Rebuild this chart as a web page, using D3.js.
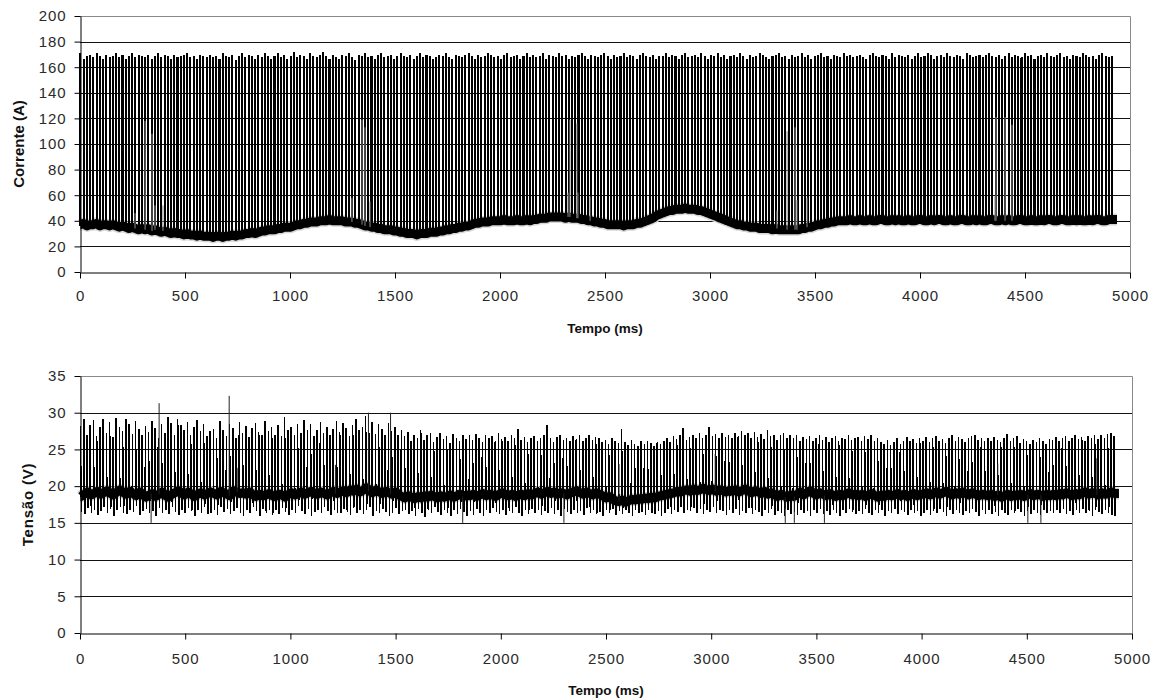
<!DOCTYPE html>
<html>
<head>
<meta charset="utf-8">
<script src="https://cdn.jsdelivr.net/npm/d3@7"></script>
<style>
  html, body { margin: 0; padding: 0; background: #fff; }
  svg { display: block; font-family: "Liberation Sans", Arial, sans-serif; }
</style>
</head>
<body>
<svg id="chart" width="1158" height="700"></svg>
<script>
// ---------------- DATA ----------------
const timeTicks = [0, 500, 1000, 1500, 2000, 2500, 3000, 3500, 4000, 4500, 5000];
const currentTicks = [0, 20, 40, 60, 80, 100, 120, 140, 160, 180, 200];
const voltageTicks = [0, 5, 10, 15, 20, 25, 30, 35];

// pulse timing (ms)
const pulseStart = 2;
const pulsePeriod = 15.4;
const pulseWidth = 0.3;
const recordEnd = 4938;

// current: peak of each pulse (A)
const currentPeak = [
170,166,168,169,167,170,168,166,169,167,168,170,167,169,166,168,170,167,169,168,
167,169,166,168,170,167,169,168,166,169,167,168,169,170,167,168,166,169,168,167,
169,167,168,166,170,168,167,169,165,168,170,167,169,168,166,169,167,170,168,166,
168,170,167,169,166,168,171,167,169,168,166,170,168,167,169,171,168,166,169,167,
166,169,168,170,167,165,169,168,170,167,168,166,169,170,167,168,169,166,168,170,
168,167,169,166,168,170,167,169,168,166,167,169,168,170,167,166,169,168,167,169,
170,168,166,169,167,168,170,169,167,168,166,169,170,167,168,169,166,168,170,167,
169,167,168,170,166,169,168,167,170,168,169,166,168,167,169,170,168,166,169,168,
167,169,170,168,166,169,167,168,170,167,169,168,166,169,170,168,167,169,166,168,
168,170,167,169,168,166,169,170,167,168,169,167,170,168,166,169,168,170,167,169,
166,168,169,167,170,168,166,169,167,168,170,169,167,166,168,169,170,167,168,166,
169,167,168,170,167,169,166,168,169,170,167,168,166,169,168,167,170,168,169,167,
168,169,167,166,169,170,168,167,169,168,166,170,167,169,168,167,169,166,168,170,
167,168,170,169,166,168,169,167,170,168,167,169,168,166,170,169,167,168,169,167,
169,170,168,167,169,166,168,170,167,169,168,167,170,168,169,166,168,169,167,170,
168,167,169,170,167,168,166,169,168,167,170,169,167,168,166,169,170,168,167,168
];
// current: background level before each pulse (A)
const currentBase = [
37,38,36,37,37,38,36,37,37,36,37,36,35,36,35,34,35,34,33,34,
33,34,32,33,32,31,32,31,30,31,30,30,29,30,29,29,28,29,28,28,
28,27,28,28,27,28,28,29,28,29,29,30,30,31,30,31,32,32,33,33,
33,34,34,35,35,35,36,37,37,38,38,39,39,39,40,40,40,41,40,40,
40,40,39,39,39,38,38,37,36,36,35,35,34,34,33,33,33,32,32,31,
31,30,30,30,29,30,30,30,31,31,31,32,32,33,33,34,34,35,35,36,
36,37,38,38,39,39,39,40,40,40,40,41,40,40,40,41,40,40,41,40,
41,41,42,42,42,43,43,43,43,43,42,43,42,42,42,41,41,40,40,39,
39,38,38,37,37,37,37,37,36,37,37,37,38,38,39,40,41,42,44,45,
46,47,48,48,49,49,49,50,49,49,49,48,48,47,46,45,44,43,42,41,
40,39,38,37,37,36,36,35,35,35,34,34,34,34,33,34,33,33,33,33,
33,33,33,34,34,35,35,36,37,37,38,38,39,39,40,40,40,40,41,40,
40,41,40,40,41,40,40,41,41,40,40,41,40,41,40,40,41,40,40,41,
41,40,40,41,40,41,41,40,40,41,40,40,41,41,40,40,41,40,41,40,
40,41,41,40,40,41,40,41,40,40,41,41,40,40,41,40,40,41,40,41,
41,40,40,41,41,40,40,41,40,41,40,40,41,40,41,41,40,40,41,41
];
// current: isolated short spikes (ms, A)
const currentEventTime  = [262, 310, 343, 357, 395, 1295, 1343, 1357, 1381, 2324, 2333, 2366, 2371, 2429, 3319, 3367, 3405, 3414, 3462, 4357, 4362, 4405, 4438];
const currentEventValue = [46, 118, 108, 52, 52, 58, 119, 113, 55, 62, 119, 116, 62, 59, 48, 110, 113, 56, 58, 59, 121, 121, 115];

// voltage: peak of each pulse (V)
const voltagePeak = [
28.2,29.1,27.0,28.3,29.0,26.8,28.1,29.2,27.3,28.8,26.7,29.3,28.0,27.5,29.2,28.4,27.1,28.9,27.8,26.9,
28.2,27.4,28.9,27.9,26.6,28.5,27.2,29.4,28.6,27.0,29.1,28.3,27.6,28.7,26.9,28.0,29.0,27.5,28.4,26.8,
27.5,27.8,26.6,28.9,27.7,26.8,28.4,27.9,26.5,28.8,27.3,28.2,26.7,27.9,28.6,27.4,26.9,28.9,27.5,28.1,
27.0,28.3,26.8,29.4,27.6,28.0,26.9,28.5,27.3,29.0,27.7,28.4,26.8,27.6,28.8,27.2,28.1,26.9,27.8,28.9,
27.4,28.6,27.9,26.8,28.3,29.2,27.6,28.0,29.5,27.3,28.7,27.1,28.4,27.8,26.9,28.6,27.5,28.1,27.0,27.7,
26.8,27.4,26.2,27.0,26.5,27.6,26.3,26.9,27.3,26.0,26.7,27.2,26.4,26.8,25.9,27.1,26.6,26.2,27.0,26.4,
26.9,26.3,27.1,26.6,26.0,27.0,26.5,26.8,26.2,27.2,26.4,26.7,26.1,26.9,26.5,27.8,26.3,26.7,26.0,26.6,
26.8,26.2,26.6,26.9,28.3,26.5,26.0,26.7,27.0,26.3,26.6,26.1,26.8,26.4,27.0,26.2,26.5,26.9,26.3,26.7,
26.5,26.0,26.3,25.8,26.6,26.2,25.9,27.8,26.0,25.6,26.3,25.8,25.5,26.1,25.7,26.2,25.9,25.4,26.0,25.8,
26.1,26.5,26.0,26.8,26.4,26.9,27.9,26.3,26.7,27.0,26.5,27.2,26.6,26.9,28.0,26.8,27.1,26.5,27.3,26.7,
27.0,26.6,27.3,26.8,27.5,26.9,27.2,26.5,27.4,26.7,27.1,26.4,27.6,26.8,27.0,26.3,26.9,27.2,26.6,27.0,
26.5,26.9,26.2,26.7,26.4,26.8,26.1,26.6,26.9,26.3,26.7,26.0,26.5,26.8,26.2,26.6,26.4,26.9,26.3,26.5,
26.7,26.2,26.8,26.4,26.9,26.1,26.6,26.0,25.8,26.3,25.6,26.0,26.5,25.8,26.2,26.7,26.1,26.4,25.9,26.6,
26.2,26.7,26.0,26.5,26.8,26.1,26.4,25.9,26.6,26.9,26.2,26.7,26.4,26.0,26.5,26.8,27.0,26.3,26.6,26.1,
26.5,26.1,26.7,26.3,26.0,26.6,27.1,26.2,26.5,26.8,25.9,26.4,26.1,25.7,26.3,26.0,26.5,26.2,25.8,26.4,
26.3,26.7,26.1,26.5,26.8,26.2,26.6,26.9,26.4,26.7,26.1,26.8,26.5,27.0,26.4,26.9,26.6,27.1,27.2,26.8
];
// voltage: dip at the end of each pulse (V)
const voltageDip = [
16.5,16.2,17.0,16.4,16.8,16.1,16.6,17.2,16.3,16.9,16.0,16.7,17.1,16.4,16.2,16.8,16.5,17.3,16.1,16.6,
16.9,16.3,16.6,15.9,17.0,16.4,16.8,16.2,17.2,16.5,16.1,16.7,16.3,17.0,16.6,16.0,16.8,16.4,17.1,16.2,
16.4,16.8,16.1,17.2,16.5,16.9,16.2,16.6,17.0,16.3,15.9,16.7,16.4,17.1,16.6,16.0,16.9,16.3,16.7,16.1,
16.7,16.2,17.0,16.5,16.1,16.8,16.4,17.3,16.6,16.2,16.9,16.0,16.5,16.8,16.3,17.1,16.6,16.1,16.7,16.4,
16.3,16.9,16.5,16.1,17.0,16.4,16.7,16.2,16.8,17.2,16.0,16.6,16.3,16.9,16.5,15.9,16.4,17.0,16.2,16.6,
16.8,16.2,16.6,16.0,16.9,16.4,15.8,16.7,16.3,17.1,16.5,16.1,16.8,16.4,16.0,16.7,16.2,16.9,16.5,15.9,
16.6,16.1,16.9,16.4,16.0,16.7,16.3,17.0,16.5,16.2,16.8,16.1,16.6,16.4,17.1,16.3,16.0,16.7,16.2,16.9,
16.3,16.8,16.1,16.6,16.4,17.0,16.2,16.7,16.0,16.9,16.5,16.2,16.8,16.3,16.6,16.1,17.0,16.4,16.7,16.2,
16.5,16.0,16.7,16.3,16.9,16.1,16.6,16.2,16.8,16.4,16.0,16.7,16.3,16.5,16.1,16.8,16.4,16.2,16.6,16.0,
16.4,16.9,16.2,16.7,16.5,17.1,16.3,16.8,16.6,17.0,16.4,16.9,16.2,16.7,16.5,17.2,16.3,16.8,16.6,16.1,
16.7,16.3,16.9,16.1,16.6,16.4,17.0,16.2,16.8,16.5,16.0,16.7,16.3,16.9,16.1,16.6,16.4,16.0,16.8,16.2,
16.5,16.1,16.8,16.3,16.6,16.0,16.7,16.4,16.9,16.2,16.6,16.1,16.8,16.4,16.0,16.7,16.3,16.9,16.5,16.2,
16.6,16.2,16.9,16.4,16.1,16.7,16.3,16.8,16.0,16.6,16.4,16.9,16.2,16.7,16.5,16.1,16.8,16.3,16.6,16.0,
16.4,16.8,16.1,16.6,16.3,16.9,16.5,16.0,16.7,16.2,16.8,16.4,16.1,16.6,16.3,16.9,16.5,16.0,16.7,16.2,
16.7,16.2,16.5,16.0,16.8,16.4,16.1,16.7,16.3,16.9,16.5,16.0,16.6,16.2,16.8,16.4,16.1,16.7,16.3,16.6,
16.3,16.8,16.4,16.9,16.2,16.6,16.1,16.7,16.4,16.9,16.3,16.6,16.0,16.8,16.5,16.2,16.7,16.4,16.1,16.0
];
// voltage: background level before each pulse (V)
const voltageBase = [
18.6,18.9,19.2,18.8,19.0,19.3,18.9,19.1,19.4,19.0,18.8,19.2,19.5,19.1,18.9,19.3,19.0,18.7,19.2,18.9,
18.5,18.8,19.0,18.6,18.9,19.2,18.7,18.5,18.9,19.1,19.4,19.0,18.8,19.2,18.9,18.6,18.9,19.1,18.8,19.0,
19.2,19.0,18.8,19.3,19.1,18.9,18.7,19.4,19.2,19.0,19.1,18.9,19.2,18.8,18.6,18.9,18.7,18.8,19.0,18.7,
18.6,18.9,18.8,18.5,18.9,19.1,18.8,19.0,19.2,18.9,19.1,19.3,19.0,18.9,19.2,19.0,18.8,19.1,19.3,19.0,
19.2,19.4,19.1,19.5,19.3,19.6,19.2,19.4,19.8,19.3,19.1,19.5,19.2,19.0,19.3,19.1,18.9,19.2,18.8,18.6,
18.4,18.7,18.5,18.3,18.6,18.4,18.7,18.5,18.8,18.6,18.4,18.7,18.5,18.6,18.8,18.5,18.7,18.9,18.6,18.8,
18.7,18.9,18.6,18.8,19.0,18.7,18.9,18.8,18.6,18.9,19.1,18.8,18.7,18.9,18.6,18.8,18.9,18.7,19.0,18.8,
19.0,19.2,18.9,19.1,19.3,19.0,19.2,18.9,19.1,19.0,18.8,19.1,19.2,19.4,19.1,18.9,19.2,19.0,18.8,19.1,
18.9,18.7,18.4,18.6,18.2,18.0,17.9,18.1,17.8,18.0,18.2,18.1,18.3,18.2,18.4,18.3,18.5,18.4,18.6,18.7,
18.8,18.9,19.0,19.1,19.3,19.2,19.4,19.5,19.3,19.6,19.4,19.5,19.7,19.5,19.4,19.6,19.3,19.5,19.4,19.2,
19.4,19.3,19.5,19.2,19.4,19.6,19.3,19.1,19.4,19.2,19.0,19.3,18.9,19.1,18.8,18.6,18.9,18.7,18.5,18.8,
18.6,18.9,19.2,18.8,19.1,19.4,19.0,18.8,19.1,18.9,18.7,19.0,18.8,18.6,18.9,18.7,18.9,19.1,18.8,18.9,
18.7,18.9,18.6,18.8,19.0,18.7,18.5,18.8,18.6,18.9,18.7,18.8,19.0,18.7,18.9,18.6,18.8,19.0,18.7,18.9,
18.9,19.1,18.8,19.0,19.2,18.9,19.1,19.3,19.0,18.8,19.1,18.9,19.2,19.0,18.8,19.1,18.9,18.7,18.9,18.8,
18.7,18.9,18.6,18.8,18.5,18.7,18.9,18.6,18.8,18.7,18.9,18.6,18.8,19.0,18.7,18.9,18.8,18.6,18.9,18.7,
18.9,18.7,19.0,18.8,19.1,18.9,18.7,19.0,18.8,19.1,19.2,18.9,19.1,19.0,18.8,19.1,18.9,19.0,19.2,19.0
];
// voltage: isolated spikes (ms, V)
const voltageEventTime  = [338, 376, 709, 747, 1214, 1371, 1476, 1819, 2300, 2562, 3019, 3352, 3395, 3538, 4362, 4505, 4567, 4833];
const voltageEventValue = [15.0, 31.3, 32.3, 22.5, 22.9, 30.0, 30.0, 15.0, 15.0, 23.0, 24.4, 15.0, 15.0, 15.0, 23.1, 15.0, 15.0, 23.8];

// ---------------- DRAWING ----------------
const svg = d3.select("#chart");
svg.append("rect").attr("width", 1158).attr("height", 700).attr("fill", "#fff");

const pulseTimes = currentPeak.map((_, i) => pulseStart + i * pulsePeriod);
const nearestIndex = t => Math.max(0, Math.min(pulseTimes.length - 1, Math.round((t - pulseStart) / pulsePeriod)));

function drawFrame(g, x, y, ticks) {
  const [x0, x1] = x.range();
  const [yb, yt] = y.range();
  g.append("g").selectAll("line").data(ticks.slice(1, -1)).join("line")
    .attr("x1", x0).attr("x2", x1)
    .attr("y1", d => Math.round(y(d)) + 0.5).attr("y2", d => Math.round(y(d)) + 0.5)
    .attr("stroke", "#111").attr("stroke-width", 1);
  g.append("path")
    .attr("d", `M${x0},${Math.round(yt) + 0.5}H${Math.round(x1) + 0.5}V${Math.round(yb)}`)
    .attr("fill", "none").attr("stroke", "#8a8a8a").attr("stroke-width", 1);
}

function drawAxes(g, x, y, yTicks, xPad, yTitle, xTitleY, yTitleX, yTitleSize, yTitleSpacing) {
  const [x0] = x.range();
  const [yb, yt] = y.range();
  const ax = g.append("g").attr("transform", `translate(0,${Math.round(yb) + 0.5})`)
    .call(d3.axisBottom(x).tickValues(timeTicks).tickSize(6).tickPadding(xPad).tickSizeOuter(0).tickFormat(d3.format("d")));
  const ay = g.append("g").attr("transform", `translate(${Math.round(x0) + 0.5},0)`)
    .call(d3.axisLeft(y).tickValues(yTicks).tickSize(6).tickPadding(8).tickSizeOuter(0).tickFormat(d3.format("d")));
  [ax, ay].forEach(a => {
    a.select(".domain").attr("stroke", "#000");
    a.selectAll(".tick line").attr("stroke", "#000");
    a.selectAll(".tick text").attr("fill", "#2a2a2a").style("font-size", "15px")
      .style("letter-spacing", "0.9px")
      .style("font-family", "'Liberation Sans', Arial, sans-serif");
  });
  g.append("text").attr("x", (x.range()[0] + x.range()[1]) / 2).attr("y", xTitleY)
    .attr("text-anchor", "middle").attr("font-weight", "bold").attr("font-size", 13.5).attr("fill", "#111")
    .text("Tempo (ms)");
  g.append("text").attr("transform", `translate(${yTitleX},${(yb + yt) / 2}) rotate(-90)`)
    .attr("text-anchor", "middle").attr("dominant-baseline", "middle")
    .attr("font-weight", "bold").attr("font-size", yTitleSize).attr("fill", "#111")
    .style("letter-spacing", yTitleSpacing + "px")
    .text(yTitle);
}

// ---- Top chart: Corrente ----
const xC = d3.scaleLinear().domain([0, 5000]).range([80, 1130]);
const yC = d3.scaleLinear().domain([0, 200]).range([272, 16]);
const gC = svg.append("g");
drawFrame(gC, xC, yC, currentTicks);

const lineC = d3.line().x(d => xC(d[0])).y(d => yC(d[1]));
const cBand = [];
const cWave = [];
pulseTimes.forEach((t, i) => {
  cBand.push([t, currentBase[i]], [t + pulseWidth + 0.2, currentBase[i]]);
  cWave.push([t, currentBase[i]], [t + 0.05, currentPeak[i]], [t + pulseWidth, currentPeak[i]], [t + pulseWidth + 0.05, currentBase[i]]);
});
cBand.push([recordEnd, currentBase[currentBase.length - 1]]);
cWave.push([recordEnd, currentBase[currentBase.length - 1]]);

gC.append("path").attr("d", lineC(cBand)).attr("fill", "none").attr("stroke", "#d6d6d6")
  .attr("stroke-width", 12).attr("stroke-linejoin", "bevel");
gC.append("path").attr("d", lineC(cBand)).attr("fill", "none").attr("stroke", "#000")
  .attr("stroke-width", 9).attr("stroke-linejoin", "bevel");
gC.append("path").attr("d", lineC(cWave)).attr("fill", "none").attr("stroke", "#000")
  .attr("stroke-width", 2).attr("stroke-linecap", "butt").attr("shape-rendering", "crispEdges");
gC.append("g").selectAll("line").data(currentEventTime).join("line")
  .attr("x1", d => xC(d)).attr("x2", d => xC(d))
  .attr("y1", d => yC(currentBase[nearestIndex(d)]))
  .attr("y2", (d, i) => yC(currentEventValue[i]))
  .attr("stroke", "#8a8a8a").attr("stroke-width", 1);

drawAxes(gC, xC, yC, currentTicks, 12, "Corrente (A)", 333, 20, 15, 0);

// ---- Bottom chart: Tensão ----
const xV = d3.scaleLinear().domain([0, 5000]).range([80, 1132]);
const yV = d3.scaleLinear().domain([0, 35]).range([633, 376]);
const gV = svg.append("g");
drawFrame(gV, xV, yV, voltageTicks);

const lineV = d3.line().x(d => xV(d[0])).y(d => yV(d[1]));
const vBand = [];
const vWave = [];
pulseTimes.forEach((t, i) => {
  vBand.push([t, voltageBase[i]], [t + 6.5, voltageBase[i]]);
  vWave.push([t, voltageBase[i]], [t + 0.5, voltagePeak[i]], [t + 2.5, voltageBase[i]],
             [t + 5, voltageBase[i]], [t + 5.5, voltageDip[i]], [t + 6.5, voltageBase[i]]);
});
vBand.push([recordEnd, voltageBase[voltageBase.length - 1]]);
vWave.push([recordEnd, voltageBase[voltageBase.length - 1]]);

gV.append("path").attr("d", lineV(vBand)).attr("fill", "none").attr("stroke", "#d0d0d0")
  .attr("stroke-width", 12).attr("stroke-linejoin", "bevel");
gV.append("path").attr("d", lineV(vBand)).attr("fill", "none").attr("stroke", "#000")
  .attr("stroke-width", 9).attr("stroke-linejoin", "bevel");
gV.append("path").attr("d", lineV(vWave)).attr("fill", "none").attr("stroke", "#000")
  .attr("stroke-width", 1.5).attr("shape-rendering", "crispEdges");
gV.append("g").selectAll("line").data(voltageEventTime).join("line")
  .attr("x1", d => xV(d)).attr("x2", d => xV(d))
  .attr("y1", d => yV(voltageBase[nearestIndex(d)]))
  .attr("y2", (d, i) => yV(voltageEventValue[i]))
  .attr("stroke", "#222").attr("stroke-width", 1);

drawAxes(gV, xV, yV, voltageTicks, 14, "Tensão (V)", 695, 29, 15, 0.8);
</script>
</body>
</html>
